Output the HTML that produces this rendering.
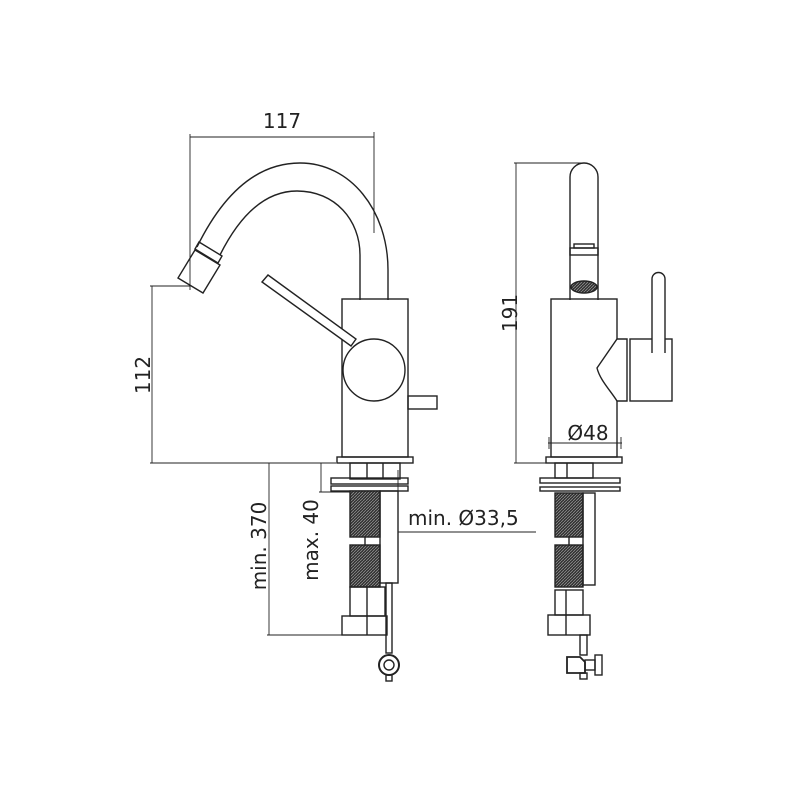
<!DOCTYPE html>
<html><head><style>body{margin:0;background:#fff}svg{display:block}</style></head>
<body>
<svg width="800" height="800" viewBox="0 0 800 800" xmlns="http://www.w3.org/2000/svg" font-family="'DejaVu Sans','Liberation Sans',sans-serif">
<defs>
<pattern id="h" width="3" height="3" patternUnits="userSpaceOnUse"><rect width="3" height="3" fill="#333"/><path d="M0 3L3 0" stroke="#999" stroke-width="0.7"/></pattern>
</defs>
<g fill="none" stroke="#222" stroke-width="1.4">
<g stroke-width="0.9">
<line x1="190" y1="134" x2="190" y2="290"/>
<line x1="374" y1="132" x2="374" y2="233"/>
<line x1="190" y1="137" x2="374" y2="137"/>
<line x1="150" y1="286" x2="190" y2="286"/>
<line x1="152" y1="286" x2="152" y2="463"/>
<line x1="150" y1="463" x2="336" y2="463"/>
<line x1="269" y1="463" x2="269" y2="635"/>
<line x1="267" y1="635" x2="342" y2="635"/>
<line x1="321" y1="463" x2="321" y2="492"/>
<line x1="319" y1="492" x2="350" y2="492"/>
<line x1="398" y1="470" x2="398" y2="535"/>
<line x1="398" y1="532" x2="536" y2="532"/>
<line x1="516" y1="163" x2="516" y2="463"/>
<line x1="514" y1="163" x2="583" y2="163"/>
<line x1="514" y1="463" x2="546" y2="463"/>
<line x1="548" y1="443" x2="622" y2="443"/>
<line x1="549" y1="437" x2="549" y2="449"/>
<line x1="621" y1="437" x2="621" y2="449"/>
</g>
<path d="M197 247 C225 190 260 163 300 163 C350 163 388 210 388 270 L388 300"/>
<path d="M220 255 C240 215 265 191 297 191 C335 191 360 220 360 255 L360 300"/>
<path d="M178 278 L203 293 L220 265 L195 250 Z"/>
<path d="M195 249 L199 242 L222 256 L218 263 Z"/>
<rect x="342" y="299" width="66" height="158"/>
<rect x="337" y="457" width="76" height="6"/>
<path d="M262 282 L268 275 L356 339 L351 346 Z" fill="#fff"/>
<circle cx="374" cy="370" r="31" fill="#fff"/>
<rect x="408" y="396" width="29" height="13"/>
<rect x="350" y="463" width="50" height="16"/>
<line x1="367" y1="463" x2="367" y2="479"/><line x1="383" y1="463" x2="383" y2="479"/>
<rect x="331" y="478" width="77" height="6"/>
<rect x="331" y="486" width="77" height="5"/>
<rect x="350" y="491" width="30" height="46" fill="url(#h)"/>
<rect x="350" y="545" width="30" height="42" fill="url(#h)"/>
<line x1="365" y1="537" x2="365" y2="545"/>
<rect x="380" y="491" width="18" height="92"/>
<rect x="386" y="583" width="6" height="70"/>
<rect x="350" y="587" width="35" height="29"/>
<line x1="367" y1="587" x2="367" y2="635"/>
<rect x="342" y="616" width="45" height="19"/>
<circle cx="389" cy="665" r="10" stroke-width="2"/>
<circle cx="389" cy="665" r="5"/>
<rect x="386" y="675" width="6" height="6"/>
<path d="M570 300 L570 177 A14 14 0 0 1 598 177 L598 300"/>
<rect x="570" y="248" width="28" height="7"/>
<rect x="574" y="244" width="20" height="4"/>
<ellipse cx="584" cy="287" rx="13" ry="6" fill="url(#h)"/>
<rect x="551" y="299" width="66" height="158"/>
<rect x="546" y="457" width="76" height="6"/>
<path d="M617 339 L627 339 L627 401 L617 401 C610 390 600 380 597 368 Z" fill="#fff"/>
<rect x="630" y="339" width="42" height="62"/>
<path d="M652 353 L652 279 A6.5 6.5 0 0 1 665 279 L665 353" fill="#fff"/>
<rect x="555" y="463" width="38" height="15"/>
<line x1="567" y1="463" x2="567" y2="478"/>
<rect x="540" y="478" width="80" height="5"/>
<rect x="540" y="487" width="80" height="4"/>
<rect x="555" y="493" width="28" height="44" fill="url(#h)"/>
<rect x="555" y="545" width="28" height="42" fill="url(#h)"/>
<line x1="569" y1="537" x2="569" y2="545"/>
<rect x="583" y="493" width="12" height="92"/>
<rect x="555" y="590" width="28" height="25"/>
<line x1="566" y1="590" x2="566" y2="635"/>
<rect x="548" y="615" width="42" height="20"/>
<rect x="580" y="635" width="7" height="20"/>
<path d="M567 657 L580 657 L585 662 L585 673 L567 673 Z" stroke-width="1.8"/>
<rect x="585" y="660" width="10" height="10"/>
<rect x="595" y="655" width="7" height="20"/>
<rect x="580" y="673" width="7" height="6"/>
</g>
<g fill="#222" font-size="20">
<text x="282" y="128" text-anchor="middle">117</text>
<text transform="translate(150,375) rotate(-90)" text-anchor="middle">112</text>
<text transform="translate(517,313) rotate(-90)" text-anchor="middle">191</text>
<text x="588" y="440" text-anchor="middle">Ø48</text>
<text x="408" y="525">min. Ø33,5</text>
<text transform="translate(318,540) rotate(-90)" text-anchor="middle">max. 40</text>
<text transform="translate(266,546) rotate(-90)" text-anchor="middle">min. 370</text>
</g>
</svg>
</body></html>
